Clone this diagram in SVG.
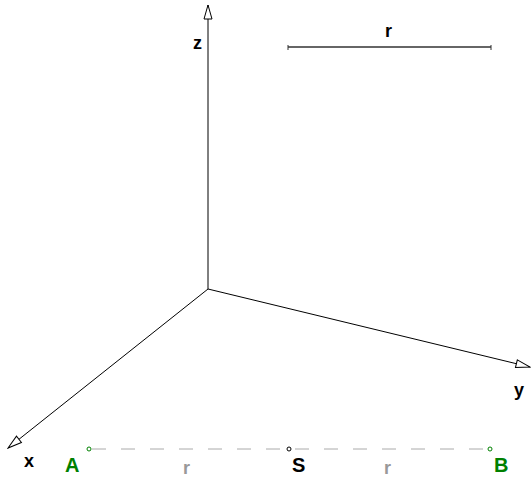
<svg xmlns="http://www.w3.org/2000/svg" width="532" height="477" viewBox="0 0 532 477">
<style>
.axis{stroke:#000;stroke-width:1;fill:none;marker-end:url(#arr)}
.lbl{font-family:"Liberation Sans",Arial,sans-serif;font-weight:bold;font-size:18px}
.big{font-size:20px}
.green{fill:#008000}
.gray{fill:#999}
</style>
<defs>
<marker id="arr" viewBox="0 0 16 10" refX="15" refY="5" markerWidth="16" markerHeight="10" markerUnits="userSpaceOnUse" orient="auto">
<path d="M1,1 L15,5 L1,9 Z" fill="#fff" stroke="#000" stroke-width="1"/>
</marker>
</defs>
<rect width="532" height="477" fill="#fff"/>
<g id="connectors">
<line class="axis" x1="208" y1="289" x2="208" y2="5"/>
<line class="axis" x1="208" y1="289" x2="530" y2="367"/>
<line class="axis" x1="208" y1="289" x2="8" y2="448"/>
<line x1="89" y1="449" x2="490" y2="449" stroke="#aaa" stroke-width="1" stroke-dasharray="14,15" stroke-dashoffset="-3"/>
<g id="segment-r" stroke="#333">
<line x1="288" y1="47" x2="491" y2="47" stroke-width="1.3"/>
<line x1="288" y1="45" x2="288" y2="50"/>
<line x1="491" y1="45" x2="491" y2="50"/>
</g>
</g>
<g id="label-z"><text class="lbl" x="193" y="49">z</text></g>
<g id="label-x"><text class="lbl" x="24" y="467">x</text></g>
<g id="label-y"><text class="lbl" x="514" y="396">y</text></g>
<g id="label-r-top"><text class="lbl" x="385" y="37">r</text></g>
<g id="A">
<circle cx="89" cy="449" r="2" fill="#fff" stroke="#008000" stroke-width="1"/>
<text class="lbl big green" x="65" y="472">A</text>
</g>
<g id="S">
<circle cx="289" cy="449" r="2" fill="#fff" stroke="#000" stroke-width="1"/>
<text class="lbl big" x="292" y="472">S</text>
</g>
<g id="B">
<circle cx="490" cy="449" r="2" fill="#fff" stroke="#008000" stroke-width="1"/>
<text class="lbl big green" x="494" y="472">B</text>
</g>
<g id="label-r1"><text class="lbl gray" x="183" y="474">r</text></g>
<g id="label-r2"><text class="lbl gray" x="384" y="474">r</text></g>
</svg>
